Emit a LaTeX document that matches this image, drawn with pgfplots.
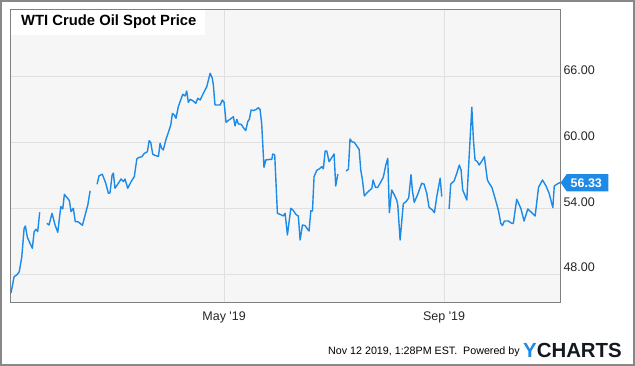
\documentclass[border=0pt]{standalone}
\usepackage{fontspec}
\setmainfont{Liberation Sans}
\usepackage{pgfplots}
\pgfplotsset{compat=1.18}
\definecolor{lineblue}{RGB}{28,138,230}
\definecolor{plotbg}{RGB}{246,246,246}
\definecolor{gridgray}{RGB}{224,224,224}
\definecolor{axisgray}{RGB}{128,128,128}
\definecolor{framegray}{RGB}{136,136,136}
\definecolor{ycnavy}{RGB}{20,24,32}
\begin{document}
\begin{tikzpicture}[x=1pt,y=1pt]
\path[use as bounding box] (0,0) rectangle (635,366);
\fill[white] (0,0) rectangle (635,366);
\begin{axis}[
  at={(10pt,63pt)}, anchor=south west,
  scale only axis, width=550pt, height=293pt,
  xmin=0.3, xmax=307.8, ymin=45.375, ymax=72.06,
  axis background/.style={fill=plotbg},
  axis line style={draw=axisgray, line width=1pt},
  grid=major, major grid style={draw=gridgray, line width=0.9pt},
  xtick={120,243}, xticklabels={May \textquotesingle19, Sep \textquotesingle19},
  ytick={48,54,60,66}, yticklabels={48.00,54.00,60.00,66.00},
  yticklabel pos=right,
  major tick length=0pt,
  tick label style={font=\fontsize{12.5}{12.5}\selectfont, text=black!85},
  yticklabel style={anchor=west, yshift=6.5pt},
  xticklabel style={yshift=-5.5pt},
  unbounded coords=jump,
]
\addplot[lineblue, line width=1.4pt, line join=round] coordinates {
(0.9,46.31)(2.6,47.77)(4.1,47.93)(5.5,48.23)(6.9,49.59)(8.2,52.18)(8.9,52.39)(10.0,51.36)(11.5,50.81)(12.8,50.36)(13.8,51.87)(14.9,52.09)(15.8,51.87)(16.9,53.64)
(19,nan)
(20.9,52.63)(22.1,52.48)(23.8,53.54)(25.5,52.48)(27.0,51.81)(28.7,54.15)(29.8,53.95)(30.7,55.27)(32.0,55.0)(33.5,54.7)(34.4,53.7)(35.7,54.0)(36.8,52.78)(38.2,52.78)(39.5,52.63)(40.8,52.45)(42.3,53.39)(43.8,54.3)(45.1,55.6)
(47,nan)
(49.0,56.19)(50.1,56.97)(51.9,57.1)(53.8,56.3)(55.3,55.37)(56.2,55.4)(57.4,57.03)(58.1,57.2)(59.0,55.82)(60.9,56.28)(62.4,56.67)(63.7,56.42)(64.6,56.67)(65.6,56.12)(66.1,55.82)(68.0,56.42)(69.8,56.88)(71.2,58.49)(72.1,58.61)(74.0,58.7)(75.4,59.0)(77.1,59.15)(78.1,60.16)(79.0,60.0)(80.1,58.92)(81.8,58.79)(83.3,58.73)(84.2,59.92)(85.1,59.46)(86.0,59.31)(87.4,60.22)(88.8,60.89)(90.2,61.59)(91.1,62.64)(92.2,62.5)(93.1,62.2)(94.4,63.25)(95.4,63.71)(96.9,64.38)(98.2,64.23)(99.1,64.68)(100.0,63.65)(101.0,63.93)(102.5,63.8)(104.2,63.56)(105.3,64.02)(106.6,63.86)(108.4,64.47)(110.3,65.07)(112.2,66.3)(113.4,65.84)(114.0,65.23)(114.9,63.41)(117.8,63.41)(119.0,63.86)(120.0,63.65)(121.1,61.83)(122.4,62.0)(125.2,62.34)(126.1,61.5)(127.1,62.1)(128.0,61.68)(129.5,61.65)(130.8,61.34)(132.1,61.07)(133.2,61.89)(134.1,62.1)(135.1,62.95)(136.4,62.9)(137.9,63.0)(139.2,63.16)(140.1,63.0)(141.0,61.74)(142.3,57.73)(143.3,58.4)(145.7,58.46)(146.7,58.46)(147.2,58.95)(148.3,58.86)(149.8,53.54)(151.3,53.45)(153.1,53.3)(154.1,53.54)(155.4,51.57)(157.3,54.0)(158.7,53.8)(160.1,53.45)(161.5,53.3)(162.5,51.11)(163.8,52.48)(165.3,52.42)(166.6,52.11)(167.5,51.93)(168.5,53.78)(169.4,53.75)(170.3,56.88)(171.8,57.45)(173.3,57.6)(174.6,57.79)(175.5,57.6)(176.5,59.22)(177.4,59.22)(178.7,58.25)(180.2,58.61)(181.5,58.95)(182.4,56.03)(183.6,57.12)
(185.5,nan)
(188.2,57.4)(189.5,57.55)(190.4,60.31)(191.4,60.07)(192.8,60.0)(194.2,59.67)(195.5,59.37)(196.4,57.49)(197.3,56.64)(198.4,55.12)(199.8,55.4)(201.6,55.67)(202.6,55.82)(203.3,56.58)(204.6,55.91)(205.9,55.91)(207.2,56.28)(209.0,56.82)(210.4,57.94)(211.5,58.55)(212.4,53.6)(213.7,55.67)(215.2,55.21)(216.5,54.76)(217.1,54.3)(218.4,51.11)(220.2,54.42)(221.7,54.6)(223.2,54.94)(224.5,57.06)(225.3,55.6)(226.3,54.54)(228.1,55.21)(230.5,56.28)(231.8,56.2)(233.3,55.37)(234.6,54.09)(236.4,53.85)(237.6,53.6)(238.9,55.06)(240.8,56.73)(241.7,55.06)
(243.8,nan)
(245.8,53.94)(246.7,56.21)(248.6,56.49)(250.1,57.19)(251.5,57.94)(252.5,57.49)(253.4,55.67)(255.7,54.76)(258.5,63.2)(259.4,60.22)(260.3,58.4)(261.6,58.25)(262.6,57.94)(264.1,58.3)(265.5,58.7)(267.2,56.58)(268.2,56.28)(269.7,55.91)(271.5,54.91)(273.4,53.78)(274.7,52.63)(275.6,52.42)(276.7,52.84)(278.9,52.84)(280.8,52.63)(281.7,52.63)(283.6,54.82)(285.9,54.0)(287.7,52.84)(289.8,53.94)(292.0,53.6)(293.9,53.3)(295.8,55.91)(298.0,56.58)(299.9,56.06)(301.7,55.37)(303.8,54.06)(304.6,56.03)(306.9,56.28)(307.8,56.33)
};
\coordinate (last) at (axis cs:307.8,56.33);
\end{axis}
% title box
\fill[white] (10.5,331) rectangle (205,355.5);
\node[anchor=west, inner sep=0, font=\fontsize{14.8}{14.8}\selectfont\bfseries] at (21,344) {WTI Crude Oil Spot Price};
% last value tag
\fill[lineblue] ([xshift=0.7pt]last) -- ++(6,8.7) -- ++(41.6,0) -- ++(0,-17.4) -- ++(-41.6,0) -- cycle;
\node[anchor=center, inner sep=0, text=white, font=\fontsize{12.5}{12.5}\selectfont\bfseries] at ([xshift=26.3pt]last) {56.33};
% footer
\node[anchor=base west, inner sep=0, font=\fontsize{10.7}{10.7}\selectfont] at (328,11) {Nov 12 2019, 1:28PM EST.\ \ Powered by};
\node[anchor=base west, inner sep=0, font=\fontsize{20.4}{20.4}\selectfont\bfseries] at (523,8.7) {\textcolor{lineblue}{Y}\textcolor{ycnavy}{CHARTS}};
% outer frame
\draw[framegray, line width=2pt] (1,1) rectangle (634,365);
\end{tikzpicture}
\end{document}
